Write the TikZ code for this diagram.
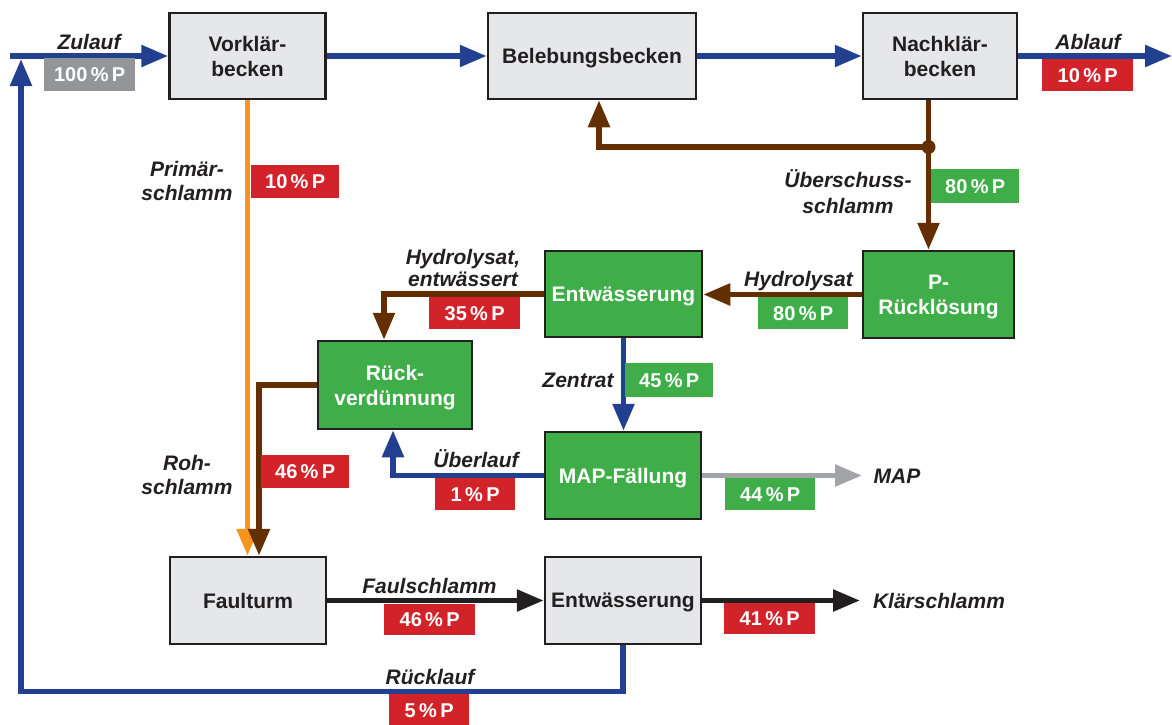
\documentclass[tikz,border=0pt]{standalone}
\usepackage{fontspec}
\setmainfont{Liberation Sans}
\usetikzlibrary{arrows.meta}

\definecolor{flowblue}{HTML}{233F90}
\definecolor{sludge}{HTML}{642F00}
\definecolor{primary}{HTML}{F7941D}
\definecolor{procgreen}{HTML}{3FAE49}
\definecolor{pctred}{HTML}{D2232A}
\definecolor{pctgrey}{HTML}{939598}
\definecolor{mapgrey}{HTML}{A2A4A7}
\definecolor{boxgrey}{HTML}{E6E7E8}
\definecolor{ink}{HTML}{231F20}

\begin{document}
\begin{tikzpicture}[x=1pt,y=-1pt,
  box/.style={draw=ink, line width=2.5pt, inner sep=0pt, align=center,
    font=\bfseries\fontsize{21}{25}\selectfont, text depth=0pt},
  greybox/.style={box, fill=boxgrey, text=ink},
  greenbox/.style={box, fill=procgreen, text=white},
  flow/.style={line width=5.5pt, line join=miter, -{Triangle[length=27pt,width=21pt]}},
  lbl/.style={font=\bfseries\itshape\fontsize{21}{24}\selectfont, text=ink,
    inner sep=0pt, align=center, anchor=base},
  pct/.style={fill=#1, text=white, font=\bfseries\fontsize{20}{20}\selectfont,
    inner sep=0pt, anchor=north west, text height=14pt, text depth=0pt},
]
\useasboundingbox (0,0) rectangle (1172,724);

% process units
\node[greybox, minimum width=156pt, minimum height=86pt] (vk) at (247.5,56) {Vorklär-\\becken};
\node[greybox, minimum width=208pt, minimum height=86pt] (bb) at (592,56) {Belebungsbecken};
\node[greybox, minimum width=154pt, minimum height=86pt] (nk) at (940,56) {Nachklär-\\becken};
\node[greenbox, minimum width=151pt, minimum height=87pt] (pr) at (938.5,294.5) {P-\\Rücklösung};
\node[greenbox, minimum width=157pt, minimum height=86pt] (entw) at (623.5,294) {Entwässerung};
\node[greenbox, minimum width=154pt, minimum height=88pt] (rv) at (395,385) {Rück-\\verdünnung};
\node[greenbox, minimum width=156pt, minimum height=87pt] (map) at (623,475.5) {MAP-Fällung};
\node[greybox, minimum width=156pt, minimum height=87pt] (ft) at (248,600.5) {Faulturm};
\node[greybox, minimum width=156pt, minimum height=87pt] (eg) at (623,600.5) {Entwässerung};

% free ends and bends
\coordinate (zin) at (10,56);
\coordinate (aout) at (1172,56);
\coordinate (junc) at (928.5,147);
\coordinate (retc) at (599,147);
\coordinate (hb) at (384,294);
\coordinate (rb) at (259,385);
\coordinate (ob) at (393,475.5);
\coordinate (mapout) at (862,475.5);
\coordinate (ksout) at (860,600.5);
\coordinate (rl) at (21,691.5);
\coordinate (rlend) at (21,59);

% water line
\draw[flow, flowblue] (zin) -- (vk);
\draw[flow, flowblue] (vk) -- (bb);
\draw[flow, flowblue] (bb) -- (nk);
\draw[flow, flowblue] (nk) -- (aout);

% return and excess sludge
\draw[flow, sludge] (nk.south -| junc) -- (junc) -- (retc) -- (retc |- bb.south);
\draw[flow, sludge] (junc) -- (junc |- pr.north);
\fill[sludge] (junc) circle (7pt);

% primary sludge
\draw[flow, primary] (vk.south) -- (vk.south |- ft.north);

% phosphorus recovery
\draw[flow, sludge] (pr.west) -- (pr.west -| entw.east);
\draw[flow, sludge] (entw.west) -- (entw.west -| hb) -- (hb |- rv.north);
\draw[flow, flowblue] (entw.south) -- (entw.south |- map.north);
\draw[flow, sludge] (rv.west) -- (rv.west -| rb) -- (rb |- ft.north);
\draw[flow, flowblue] (map.west) -- (map.west -| ob) -- (ob |- rv.south);
\draw[flow, mapgrey] (map.east) -- (mapout);

% digestion and dewatering
\draw[flow, ink] (ft) -- (eg);
\draw[flow, ink] (eg.east) -- (ksout);
\draw[flow, flowblue] (eg.south) -- (eg.south |- rl) -- (rl) -- (rlend);

% stream labels (two-line labels sit on the baseline of their last line)
\node[lbl] (lzu) at (89,49) {Zulauf};
\node[lbl] (lab) at (1088,49) {Ablauf};
\node[lbl] (lprim) at (187,200) {Primär-\\schlamm};
\node[lbl, font=\bfseries\itshape\fontsize{21}{26}\selectfont] (lues) at (848,213) {Überschuss-\\schlamm};
\node[lbl] (lhyd) at (798.5,286) {Hydrolysat};
\node[lbl, font=\bfseries\itshape\fontsize{21}{21.5}\selectfont] (lhe) at (463,286) {Hydrolysat,\\entwässert};
\node[lbl] (lzen) at (578,387) {Zentrat};
\node[lbl] (lroh) at (187,494) {Roh-\\schlamm};
\node[lbl] (lueb) at (476,467.5) {Überlauf};
\node[lbl] (lmap) at (897,483.5) {MAP};
\node[lbl] (lfs) at (429.5,593) {Faulschlamm};
\node[lbl] (lks) at (939,608.5) {Klärschlamm};
\node[lbl] (lrl) at (430,684) {Rücklauf};

% phosphorus shares
\node[pct=pctgrey, minimum width=91pt, minimum height=33pt] (p1) at (44,58) {100\,\%\,P};
\node[pct=pctred, minimum width=91pt, minimum height=32pt] (p2) at (1042,59) {10\,\%\,P};
\node[pct=pctred, minimum width=88pt, minimum height=33pt] (p3) at (251,165) {10\,\%\,P};
\node[pct=procgreen, minimum width=88pt, minimum height=34pt] (p4) at (931,169) {80\,\%\,P};
\node[pct=procgreen, minimum width=90pt, minimum height=32pt] (p5) at (758,297) {80\,\%\,P};
\node[pct=pctred, minimum width=91pt, minimum height=32pt] (p6) at (429,297) {35\,\%\,P};
\node[pct=procgreen, minimum width=88pt, minimum height=34pt] (p7) at (625,363) {45\,\%\,P};
\node[pct=pctred, minimum width=88pt, minimum height=33pt] (p8) at (261,455) {46\,\%\,P};
\node[pct=pctred, minimum width=80pt, minimum height=32pt] (p9) at (435,478) {1\,\%\,P};
\node[pct=procgreen, minimum width=90pt, minimum height=32pt] (p10) at (725,478) {44\,\%\,P};
\node[pct=pctred, minimum width=91pt, minimum height=31pt] (p11) at (384,604) {46\,\%\,P};
\node[pct=pctred, minimum width=91pt, minimum height=31pt] (p12) at (724,603) {41\,\%\,P};
\node[pct=pctred, minimum width=80pt, minimum height=32pt] (p13) at (389,694) {5\,\%\,P};
\end{tikzpicture}
\end{document}
